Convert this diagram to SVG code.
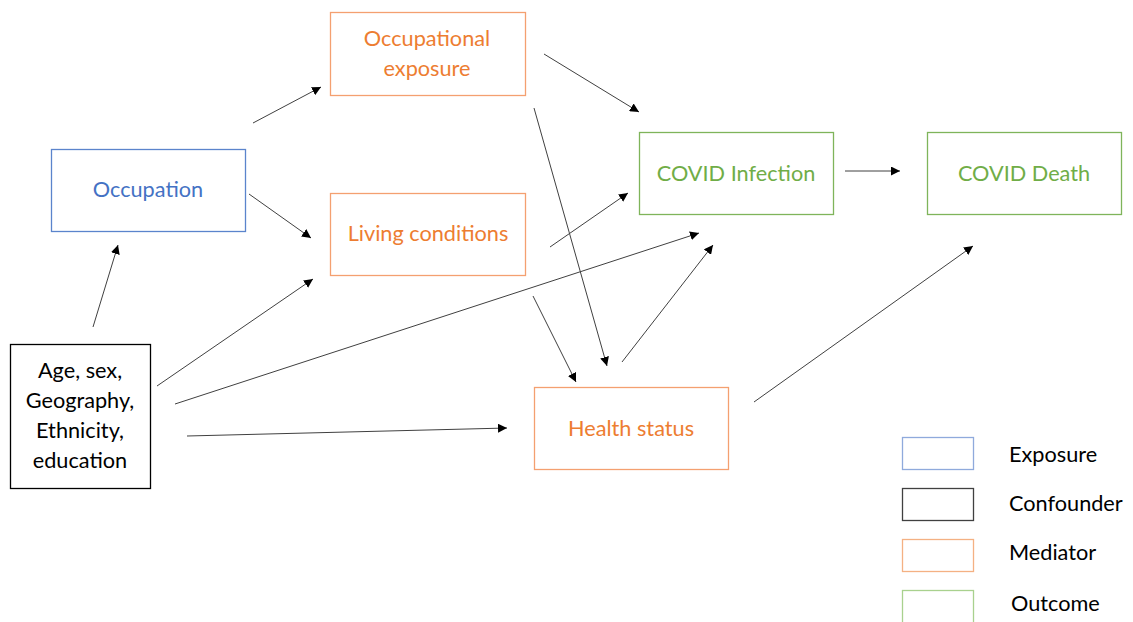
<svg xmlns="http://www.w3.org/2000/svg" width="1133" height="622" viewBox="0 0 1133 622">
<defs>
<marker id="ah" viewBox="0 0 10 10" refX="10" refY="5" markerWidth="9" markerHeight="9" markerUnits="userSpaceOnUse" orient="auto">
<path d="M0,0 L10,5 L0,10 z" fill="#000"/>
</marker>
<style>
text{font-family:Lato,"Open Sans","Liberation Sans",sans-serif;font-size:21.7px;text-anchor:middle;dominant-baseline:central}
.box{fill:#fff;stroke-width:1.3}
.exp{stroke:#5B84CC}.expT{fill:#4472C4}
.med{stroke:#F4A070}.medT{fill:#ED7D31}
.out{stroke:#7FB45A}.outT{fill:#70AD47}
.con{stroke:#000}.conT{fill:#000}
.lexp{stroke:#8FAADC}.lmed{stroke:#F4B183}.lout{stroke:#A9D18E}.lcon{stroke:#404040}
.leg{text-anchor:start;fill:#000}
#connectors line{stroke:#404040;stroke-width:1;marker-end:url(#ah)}
</style>
</defs>
<rect width="1133" height="622" fill="#fff"/>
<g id="occupational-exposure"><rect class="box med" x="330.5" y="12.5" width="195" height="83"/><text class="medT" x="427" y="38">Occupational</text><text class="medT" x="427" y="68">exposure</text></g>
<g id="occupation"><rect class="box exp" x="51.5" y="149.5" width="194" height="82"/><text class="expT" x="148" y="189">Occupation</text></g>
<g id="living-conditions"><rect class="box med" x="330.5" y="193.5" width="195" height="82"/><text class="medT" x="428" y="233">Living conditions</text></g>
<g id="covid-infection"><rect class="box out" x="639.5" y="132.5" width="194" height="82"/><text class="outT" x="736" y="173">COVID Infection</text></g>
<g id="covid-death"><rect class="box out" x="927.5" y="132.5" width="194" height="82"/><text class="outT" x="1024" y="173">COVID Death</text></g>
<g id="health-status"><rect class="box med" x="534.5" y="387.5" width="194" height="82"/><text class="medT" x="631" y="428">Health status</text></g>
<g id="confounders"><rect class="box con" x="10.5" y="344.5" width="140" height="144"/><text class="conT" x="80" y="370">Age, sex,</text><text class="conT" x="80" y="400">Geography,</text><text class="conT" x="80" y="430">Ethnicity,</text><text class="conT" x="80" y="460">education</text></g>
<g id="connectors">
<line x1="253" y1="123" x2="321" y2="87"/>
<line x1="249" y1="194" x2="311" y2="238"/>
<line x1="93" y1="327" x2="118" y2="245"/>
<line x1="157" y1="386" x2="313" y2="279"/>
<line x1="175" y1="404" x2="699" y2="233"/>
<line x1="187" y1="436" x2="507" y2="428"/>
<line x1="544" y1="54" x2="639" y2="112"/>
<line x1="534" y1="108" x2="607" y2="366"/>
<line x1="550" y1="247" x2="628" y2="193"/>
<line x1="533" y1="296" x2="576" y2="382"/>
<line x1="622" y1="362" x2="713" y2="245"/>
<line x1="845" y1="171" x2="900" y2="171"/>
<line x1="754" y1="402" x2="973" y2="246"/>
</g>
<g id="legend">
<rect class="box lexp" x="902.5" y="437.5" width="71" height="32"/><text class="leg" x="1009" y="454">Exposure</text>
<rect class="box lcon" x="902.5" y="488.5" width="71" height="32"/><text class="leg" x="1009" y="503">Confounder</text>
<rect class="box lmed" x="902.5" y="539.5" width="71" height="32"/><text class="leg" x="1009" y="552">Mediator</text>
<rect class="box lout" x="902.5" y="590.5" width="71" height="40"/><text class="leg" x="1011" y="603">Outcome</text>
</g>
</svg>
